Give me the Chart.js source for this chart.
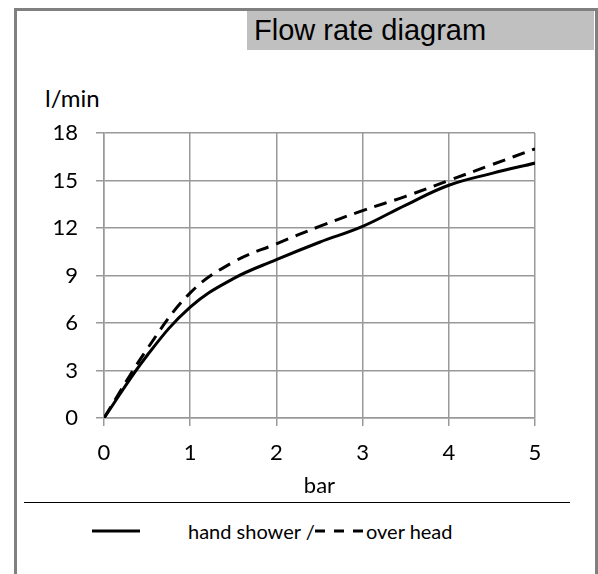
<!DOCTYPE html>
<html>
<head>
<meta charset="utf-8">
<script src="https://cdn.jsdelivr.net/npm/chart.js@4"></script>
<style>
  html, body { margin: 0; padding: 0; background: #fff; }
  body { width: 598px; height: 574px; position: relative; overflow: hidden; }
  #frame { position: absolute; left: 14px; top: 8px; width: 578px; height: 620px; border: 3px solid #808080; }
  #title { position: absolute; left: 247px; top: 11px; width: 347px; height: 39px; background: #c0c0c0;
           font: 29px "Liberation Sans", Arial, sans-serif; color: #000; line-height: 39px; padding-left: 7px; box-sizing: border-box; }
  #unit { position: absolute; left: 45px; top: 83px; font: 24px Lato, sans-serif; color: #000; }
  #sep { position: absolute; left: 24px; top: 502px; width: 546px; height: 0; border-top: 1.5px solid #000; }
  #legend { position: absolute; left: 0; top: 519px; width: 598px; height: 24px; font: 20px Lato, sans-serif; color: #000; }
  #legend svg { position: absolute; top: 0; }
  #legend span { position: absolute; top: 0; line-height: 24px; }
  #wrap { position: absolute; left: 0; top: 0; width: 598px; height: 574px; }
</style>
</head>
<body>
<div id="frame"></div>
<div id="title">Flow rate diagram</div>
<div id="unit">l/min</div>
<div id="sep"></div>
<div id="legend">
  <svg style="left:92px" width="48" height="24"><line x1="0" y1="12" x2="48" y2="12" stroke="#000" stroke-width="3"/></svg>
  <span style="left:188px">hand shower /</span>
  <svg style="left:315px" width="48" height="24"><line x1="0" y1="12" x2="48" y2="12" stroke="#000" stroke-width="3" stroke-dasharray="10,9"/></svg>
  <span style="left:366px">over head</span>
</div>
<div id="wrap"><canvas id="flowChart" width="598" height="574"></canvas></div>
<script>
// pressure in bar
const pressure = [0, 0.5, 1, 1.5, 2, 2.5, 3, 3.5, 4, 4.5, 5];
// flow in l/min
const handShower = [0, 3.95, 7.0, 8.8, 10, 11.1, 12.1, 13.45, 14.7, 15.45, 16.1];
const overHead = [0, 4.35, 7.9, 9.85, 11, 12.1, 13.1, 14.0, 15.0, 16.0, 17.0];
const yTicks = [0, 3, 6, 9, 12, 15, 18];

const toPoints = ys => pressure.map((x, i) => ({ x: x, y: ys[i] }));

new Chart(document.getElementById("flowChart"), {
  type: "line",
  data: {
    datasets: [
      { label: "hand shower", data: toPoints(handShower), borderColor: "#000", borderWidth: 3, pointRadius: 0, fill: false, tension: 0.4 },
      { label: "over head", data: toPoints(overHead), borderColor: "#000", borderWidth: 3, borderDash: [13, 8], pointRadius: 0, fill: false, tension: 0.4 }
    ]
  },
  options: {
    responsive: false,
    animation: false,
    layout: { padding: { top: 133, left: 0, right: 63, bottom: 75 } },
    plugins: { legend: { display: false }, tooltip: { enabled: false } },
    scales: {
      x: {
        type: "linear", min: 0, max: 5,
        ticks: { stepSize: 1, color: "#000", padding: 14, font: { family: "Lato", size: 22 } },
        grid: { color: "#999", lineWidth: 1.5, tickLength: 8 },
        border: { color: "#999", width: 1.5 },
        title: { display: true, text: "bar", color: "#000", padding: 0, font: { family: "Lato", size: 22 } },
        afterFit: s => { s.height = 81; }
      },
      y: {
        min: 0, max: 18,
        afterBuildTicks: s => { s.ticks = yTicks.map(v => ({ value: v })); },
        ticks: { color: "#000", padding: 18, font: { family: "Lato", size: 22 } },
        grid: { color: "#999", lineWidth: 1.5, tickLength: 8 },
        border: { color: "#999", width: 1.5 },
        afterFit: s => { s.width = 104; }
      }
    }
  }
});
</script>
</body>
</html>
